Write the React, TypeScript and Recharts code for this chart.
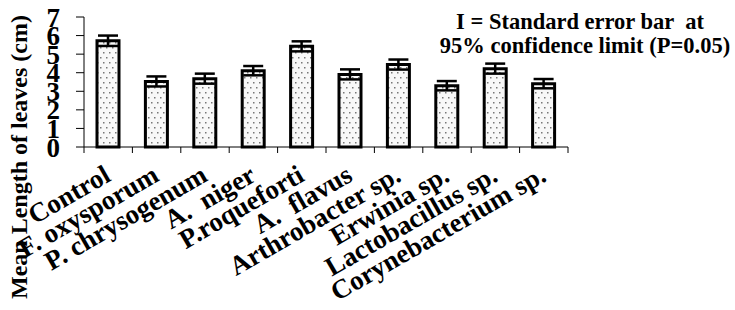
import React from 'react';
import { BarChart, Bar, XAxis, YAxis, ErrorBar, Customized } from 'recharts';

const categories = [
  'Control',
  'F. oxysporum',
  'P. chrysogenum',
  'A.  niger',
  'P.roqueforti',
  'A.  flavus',
  'Arthrobacter sp.',
  'Erwinia sp.',
  'Lactobacillus sp.',
  'Corynebacterium sp.',
];
const meanLength = [5.72, 3.53, 3.68, 4.11, 5.42, 3.91, 4.44, 3.3, 4.22, 3.41];
const errorValues = [0.28, 0.27, 0.27, 0.25, 0.27, 0.27, 0.27, 0.25, 0.27, 0.25];
const yTicks = [0, 1, 2, 3, 4, 5, 6, 7];

const data = categories.map((name, i) => ({ name, value: meanLength[i], err: errorValues[i] }));

const FONT = "'Liberation Serif', 'Times New Roman', serif";

const CategoryTick = (props: any) => {
  const { x, y, payload, index, visibleTicksCount } = props;
  const half = payload && payload.offset ? payload.offset : 0;
  const isLast = index === visibleTicksCount - 1;
  return (
    <g>
      <line x1={x - half} x2={x - half} y1={y} y2={y + 6} stroke="#000" strokeWidth={1} />
      {isLast && <line x1={x + half} x2={x + half} y1={y} y2={y + 6} stroke="#000" strokeWidth={1} />}
      <text
        transform={`translate(${x + 4},${y + 33}) rotate(-30)`}
        textAnchor="end"
        fontFamily={FONT}
        fontWeight="bold"
        fontSize={27}
        fill="#000"
        style={{ whiteSpace: 'pre' }}
      >
        {payload.value}
      </text>
    </g>
  );
};

const Notes = () => (
  <g>
    <text
      transform="translate(27,157) rotate(-90)"
      textAnchor="middle"
      fontFamily={FONT}
      fontWeight="bold"
      fontSize={24}
      fill="#000"
    >
      Mean Length of leaves (cm)
    </text>
    <text x={580} y={29} textAnchor="middle" fontFamily={FONT} fontWeight="bold" fontSize={22.5} fill="#000" style={{ whiteSpace: 'pre' }}>
      I = Standard error bar  at
    </text>
    <text x={585} y={53} textAnchor="middle" fontFamily={FONT} fontWeight="bold" fontSize={22.5} fill="#000" style={{ whiteSpace: 'pre' }}>
      95% confidence limit (P=0.05)
    </text>
  </g>
);

export default function App() {
  return (
    <div style={{ position: 'absolute', left: 0, top: 0, width: 735, height: 310, background: '#fff' }}>
      <svg width={0} height={0} style={{ position: 'absolute' }}>
        <defs>
          <pattern id="dots" width={6} height={10} patternUnits="userSpaceOnUse">
            <rect width={6} height={10} fill="#f8f8f8" />
            <rect x={1} y={2} width={1.5} height={1.5} fill="#777" />
            <rect x={4} y={7} width={1.5} height={1.5} fill="#777" />
          </pattern>
        </defs>
      </svg>
      <BarChart
        width={735}
        height={310}
        data={data}
        margin={{ top: 17, right: 167, left: 24, bottom: 162 }}
        barCategoryGap={0}
      >
        <XAxis
          dataKey="name"
          height={1}
          axisLine={{ stroke: '#000', strokeWidth: 1 }}
          tickLine={false}
          tickSize={0}
          tickMargin={0}
          interval={0}
          tick={<CategoryTick />}
        />
        <YAxis
          domain={[0, 7]}
          ticks={yTicks}
          width={60}
          interval={0}
          axisLine={{ stroke: '#000', strokeWidth: 1 }}
          tickLine={{ stroke: '#000', strokeWidth: 1 }}
          tickSize={8}
          tickMargin={16}
          tick={{ fontFamily: FONT, fontWeight: 'bold', fontSize: 27, fill: '#000' }}
        />
        <Bar
          dataKey="value"
          barSize={22}
          fill="url(#dots)"
          stroke="#000"
          strokeWidth={3}
          isAnimationActive={false}
        >
          <ErrorBar dataKey="err" width={10} stroke="#000" strokeWidth={2.5} direction="y" />
        </Bar>
        <Customized component={Notes} />
      </BarChart>
    </div>
  );
}
